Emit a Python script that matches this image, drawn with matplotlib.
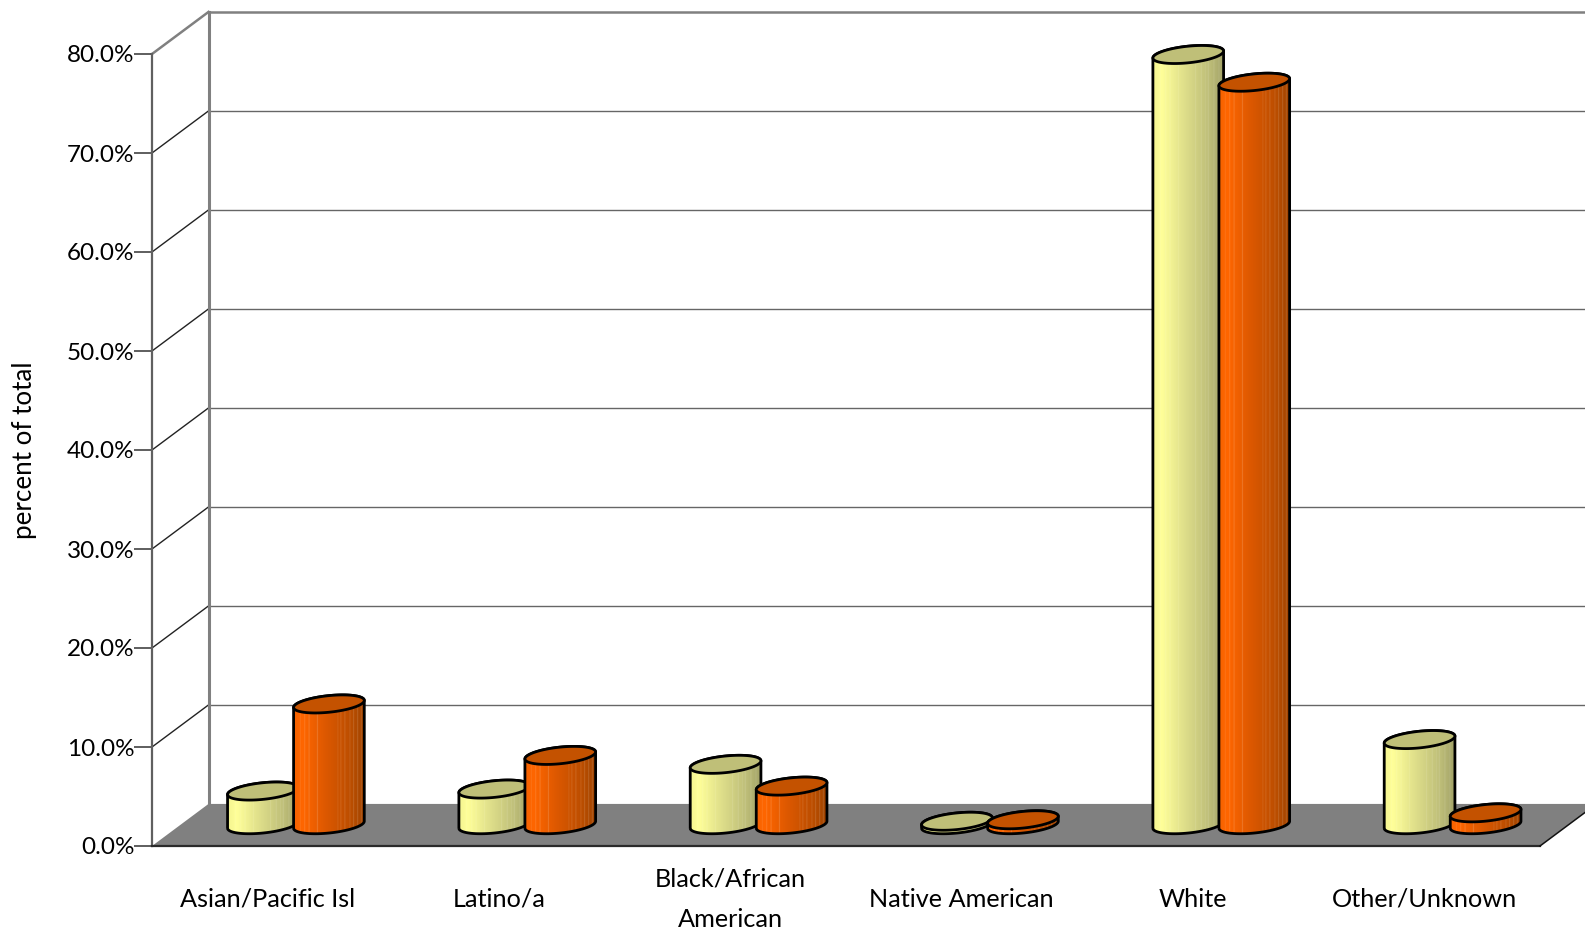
import matplotlib
matplotlib.use("Agg")
import matplotlib.pyplot as plt
from matplotlib.patches import PathPatch, Polygon
from matplotlib.path import Path
import numpy as np

plt.rcParams['font.family'] = ['Lato', 'DejaVu Sans']

# Data
categories = ["Asian/Pacific Isl", "Latino/a", "Black/African\nAmerican",
              "Native American", "White", "Other/Unknown"]
series_yellow = [3.4, 3.6, 6.1, 0.35, 77.8, 8.6]
series_orange = [12.2, 7.0, 3.9, 0.5, 75.0, 1.2]
y_ticks = [0, 10, 20, 30, 40, 50, 60, 70, 80]
y_tick_labels = ["0.0%", "10.0%", "20.0%", "30.0%", "40.0%", "50.0%", "60.0%", "70.0%", "80.0%"]

W, H = 1585, 932

fig = plt.figure(figsize=(W / 100, H / 100), dpi=100, facecolor="white")
# axes = front plane of the 3d box
ax = fig.add_axes([152 / W, (H - 846) / H, 1388 / W, 792 / H])
ax.patch.set_visible(False)

# depth of the box in data units
dx = 56.5 / 231.3
dy = 4.25
n = len(categories)
top = 80
xmax_edge = (W - 152) / 231.3 + 0.1

# floor
ax.add_patch(Polygon([(0, 0), (n, 0), (n + dx, dy), (dx, dy)], closed=True,
                     fc="#808080", ec="none", zorder=1, clip_on=False))

# back wall grid and side wall lines
for v in y_ticks[1:]:
    lc, lw = ("#808080", 1.8) if v == top else ("#666666", 1.0)
    ax.plot([dx, xmax_edge], [v + dy, v + dy], color=lc, lw=lw, zorder=1, clip_on=False)
    ax.plot([0, dx], [v, v + dy], color=lc if v == top else "#222222", lw=lw, zorder=1, clip_on=False)

# wall edges
ax.plot([dx, dx], [dy, top + dy], color="#808080", lw=2.2, zorder=1, clip_on=False)
ax.plot([0, 0], [0, top], color="#606060", lw=1.6, zorder=2, clip_on=False)
ax.plot([0, n], [0, 0], color="#2a2a2a", lw=1.6, zorder=2, clip_on=False)
ax.plot([n, n + dx], [0, dy], color="#111111", lw=1.1, zorder=2, clip_on=False)

# cylinder shape, in data units
half_w = 0.1528
ell_b = 0.84
ell_s = 0.354
base_y = 2.15
pair_off = 0.1427


def gradient(stops, streaks):
    pos = np.linspace(0, 1, 212)
    fr = [s[0] for s in stops]
    img = np.stack([np.interp(pos, fr, [s[1][c] for s in stops]) for c in range(3)], axis=-1)
    for st, amount in streaks:
        i = int(st * 211)
        img[i:i + 2] = img[i:i + 2] + (1 - img[i:i + 2]) * amount
    return img[np.newaxis, :, :]


def rgb(h):
    return matplotlib.colors.to_rgb(h)


yellow_img = gradient(
    [(0, rgb("#F4F490")), (0.12, rgb("#FFFF99")), (0.45, rgb("#DEDE8A")),
     (0.8, rgb("#BDBD78")), (1, rgb("#A3A368"))],
    [(0.1, .12), (0.18, .12), (0.24, .15), (0.36, .14), (0.6, .16), (0.68, .16),
     (0.74, .12), (0.78, .18), (0.86, .16), (0.93, .14)])
orange_img = gradient(
    [(0, rgb("#F56200")), (0.12, rgb("#FF6600")), (0.45, rgb("#DC5800")),
     (0.8, rgb("#BC4E00")), (1, rgb("#A04400"))],
    [(0.09, .12), (0.15, .18), (0.21, .22), (0.33, .25), (0.62, .12), (0.66, .16),
     (0.72, .18), (0.79, .14), (0.84, .2), (0.9, .2), (0.95, .18)])


def cylinder(cx, value, img, top_color, zo):
    y_top = base_y + value
    t_low = np.linspace(np.pi, 2 * np.pi, 60)
    t_up = np.linspace(0, np.pi, 60)
    xb = cx + half_w * np.cos(t_low)
    yb = base_y + ell_b * np.sin(t_low) + ell_s * np.cos(t_low)
    xt = cx + half_w * np.cos(t_up)
    yt = y_top + ell_b * np.sin(t_up) + ell_s * np.cos(t_up)
    body = Path(np.column_stack([np.r_[xb, xt, xb[0]], np.r_[yb, yt, yb[0]]]), closed=False)
    outline = PathPatch(body, fc="none", ec="black", lw=2.0, zorder=zo + 0.2, clip_on=False)
    ax.add_patch(outline)
    im = ax.imshow(img, extent=(cx - half_w, cx + half_w, base_y - 2, y_top + 2),
                   aspect="auto", zorder=zo, interpolation="bilinear")
    im.set_clip_path(PathPatch(body, transform=ax.transData))
    t = np.linspace(0, 2 * np.pi, 120)
    ax.add_patch(Polygon(np.column_stack([cx + half_w * np.cos(t),
                                          y_top + ell_b * np.sin(t) + ell_s * np.cos(t)]),
                         closed=True, fc=top_color, ec="black", lw=2.0, zorder=zo + 0.3, clip_on=False))


for i in range(n):
    center = i + 0.5 + dx / 2
    cylinder(center - pair_off, series_yellow[i], yellow_img, "#BFBF78", 3 + i)
    cylinder(center + pair_off, series_orange[i], orange_img, "#C45200", 3.5 + i)

ax.set_xlim(0, n)
ax.set_ylim(0, top)

for side in ax.spines.values():
    side.set_visible(False)

ax.set_yticks(y_ticks)
ax.set_yticklabels(y_tick_labels, fontsize=17.5, color="black")
ax.tick_params(axis="y", length=13, width=1.1, color="#333333", pad=-0.3)

# category labels, centered under each slot
ax.set_xticks([])
for i, name in enumerate(categories):
    ax.text(i + 0.5, -5.4, name, ha="center", va="center", fontsize=18.2,
            linespacing=1.9, clip_on=False)

ax.set_ylabel("percent of total", fontsize=18.7)
ax.yaxis.set_label_coords(-0.0825, 0.5)

fig.savefig("out.png", dpi=100)
plt.close(fig)
